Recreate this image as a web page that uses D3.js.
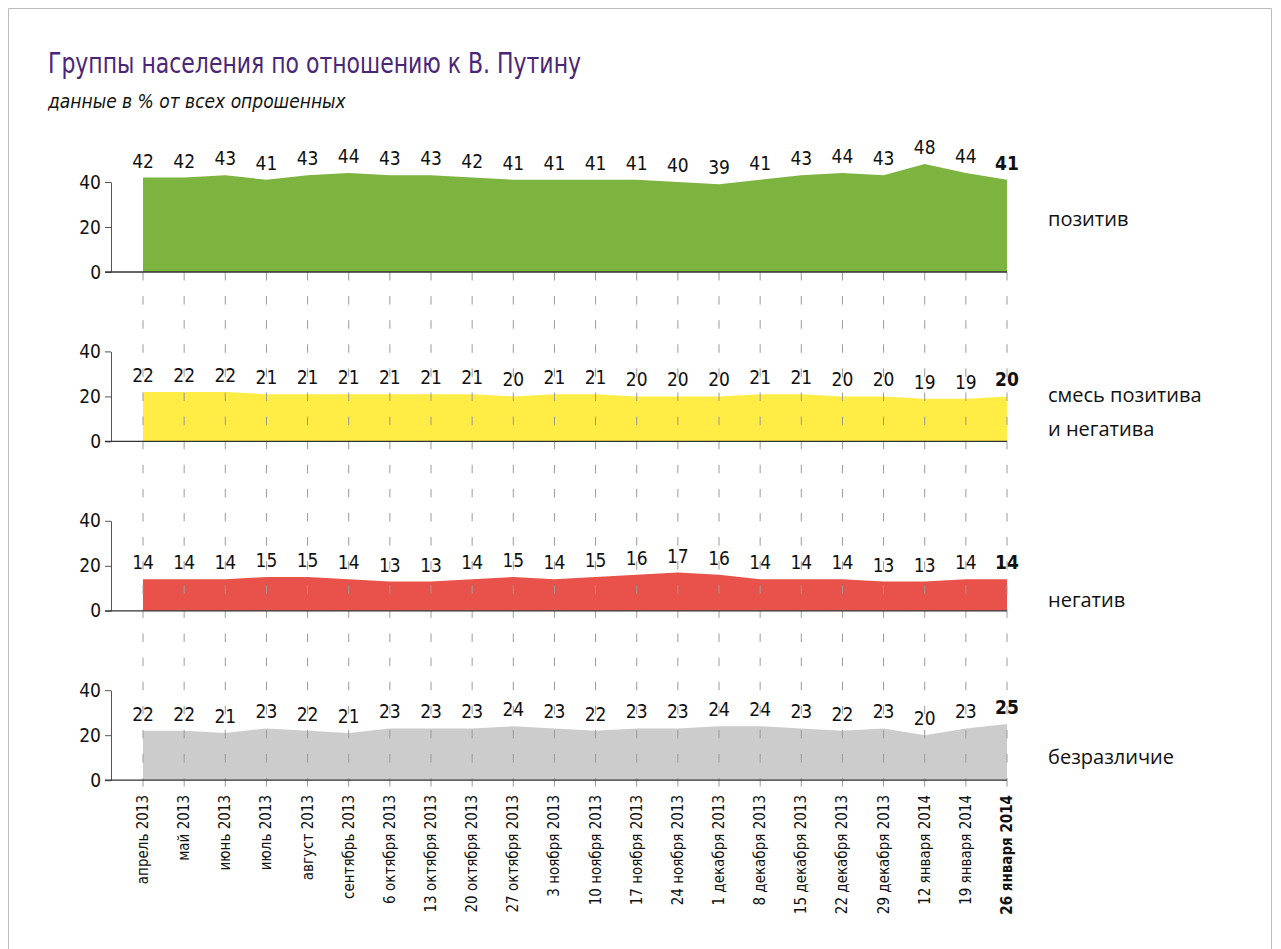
<!DOCTYPE html>
<html lang="ru">
<head>
<meta charset="utf-8">
<title>Группы населения по отношению к В. Путину</title>
<script src="https://d3js.org/d3.v7.min.js"></script>
<style>
  body { margin: 0; background: #fff; }
  svg { display: block; }
  .narrow { font-family: "Liberation Sans Narrow", "DejaVu Sans Condensed", "Liberation Sans", sans-serif; }
</style>
</head>
<body>
<svg id="chart"></svg>
<script>

    // data
    const categories = ["апрель 2013", "май 2013", "июнь 2013", "июль 2013", "август 2013",
        "сентябрь 2013", "6 октября 2013", "13 октября 2013", "20 октября 2013", "27 октября 2013",
        "3 ноября 2013", "10 ноября 2013", "17 ноября 2013", "24 ноября 2013", "1 декабря 2013",
        "8 декабря 2013", "15 декабря 2013", "22 декабря 2013", "29 декабря 2013",
        "12 января 2014", "19 января 2014", "26 января 2014"];

    const positive    = [42, 42, 43, 41, 43, 44, 43, 43, 42, 41, 41, 41, 41, 40, 39, 41, 43, 44, 43, 48, 44, 41];
    const mixed       = [22, 22, 22, 21, 21, 21, 21, 21, 21, 20, 21, 21, 20, 20, 20, 21, 21, 20, 20, 19, 19, 20];
    const negative    = [14, 14, 14, 15, 15, 14, 13, 13, 14, 15, 14, 15, 16, 17, 16, 14, 14, 14, 13, 13, 14, 14];
    const indifferent = [22, 22, 21, 23, 22, 21, 23, 23, 23, 24, 23, 22, 23, 23, 24, 24, 23, 22, 23, 20, 23, 25];

    const seriesNames  = [["позитив"], ["смесь позитива", "и негатива"], ["негатив"], ["безразличие"]];
    const seriesValues = [positive, mixed, negative, indifferent];
    const seriesColors = ["#7db33f", "#ffec45", "#e8524a", "#cccccc"];
    const yTicks = [0, 20, 40];

    const width = 1281, height = 949;
    const firstBase = 272, panelStep = 169.4, panelH = 90;
    // where each series name sits, measured up from its panel baseline
    const nameRaise = [46, 39, 4, 16];

    let svg = d3.select("#chart")
        .attr("width", width)
        .attr("height", height);

    // frame
    svg.append("path")
        .attr("d", `M8.5,${height + 2}V8.5H1271.5V${height + 2}`)
        .attr("fill", "none")
        .attr("stroke", "#bdbdbd");

    svg.append("text")
        .attr("class", "narrow")
        .attr("x", 48).attr("y", 73)
        .attr("font-size", 29)
        .attr("textLength", 533)
        .attr("lengthAdjust", "spacingAndGlyphs")
        .attr("fill", "#4a2676")
        .text("Группы населения по отношению к В. Путину");

    svg.append("text")
        .attr("class", "narrow")
        .attr("x", 48).attr("y", 108)
        .attr("font-size", 19)
        .attr("font-style", "italic")
        .attr("fill", "#111")
        .text("данные в % от всех опрошенных");

    let x = d3.scalePoint()
        .domain(categories)
        .range([143, 1007]);

    const baseOf = i => firstBase + i * panelStep;

    let areas = svg.append("g").attr("id", "areas");
    let grid = svg.append("g").attr("id", "grid");
    let axes = svg.append("g").attr("id", "axes");
    let labels = svg.append("g").attr("id", "labels");

    seriesValues.forEach((vals, i) => {
        let base = baseOf(i);
        let y = d3.scaleLinear().domain([0, 40]).range([base, base - panelH]);

        let area = d3.area()
            .x((d, j) => x(categories[j]))
            .y0(base)
            .y1(d => y(d));

        areas.append("path")
            .datum(vals)
            .attr("d", area)
            .attr("fill", seriesColors[i]);

        // y axis
        let ax = axes.append("g")
            .attr("transform", "translate(111,0)")
            .call(d3.axisLeft(y).tickValues(yTicks).tickSize(6).tickSizeOuter(0).tickPadding(4));
        ax.select(".domain").attr("stroke", "#555");
        ax.selectAll(".tick line").attr("stroke", "#555");
        ax.selectAll(".tick text")
            .attr("class", "narrow")
            .attr("font-size", 19)
            .attr("fill", "#111");

        // baseline
        axes.append("line")
            .attr("x1", 105).attr("x2", x(categories[categories.length - 1]))
            .attr("y1", base).attr("y2", base)
            .attr("stroke", "#333")
            .attr("stroke-width", 1.3);

        // value labels
        labels.append("g")
            .selectAll("text")
            .data(vals)
            .join("text")
                .attr("class", "narrow")
                .attr("x", (d, j) => x(categories[j]))
                .attr("y", d => y(d) - 10)
                .attr("text-anchor", "middle")
                .attr("font-size", 19)
                .attr("font-weight", (d, j) => j === vals.length - 1 ? "bold" : "normal")
                .attr("fill", "#111")
                .text(d => d);

        // series name
        labels.append("text")
            .attr("x", 1048)
            .attr("y", base - nameRaise[i])
            .attr("font-family", "'Open Sans', 'Noto Sans', sans-serif")
            .attr("font-size", 20)
            .attr("fill", "#111")
            .selectAll("tspan")
            .data(seriesNames[i])
            .join("tspan")
                .attr("x", 1048)
                .attr("dy", (d, k) => k === 0 ? 0 : 34)
                .text(d => d);
    });

    // dashed guides from the top baseline down through the panels
    grid.selectAll("line")
        .data(categories)
        .join("line")
            .attr("x1", d => x(d)).attr("x2", d => x(d))
            .attr("y1", firstBase).attr("y2", baseOf(3) + 8)
            .attr("stroke", "#9a9a9a")
            .attr("stroke-width", 1)
            .attr("stroke-dasharray", "8.5,15.6");

    // category labels
    svg.append("g")
        .selectAll("text")
        .data(categories)
        .join("text")
            .attr("class", "narrow")
            .attr("transform", d => `translate(${x(d) + 5},795) rotate(-90)`)
            .attr("text-anchor", "end")
            .attr("font-size", 15)
            .attr("font-weight", (d, i) => i === categories.length - 1 ? "bold" : "normal")
            .attr("fill", "#111")
            .text(d => d);

</script>
</body>
</html>
